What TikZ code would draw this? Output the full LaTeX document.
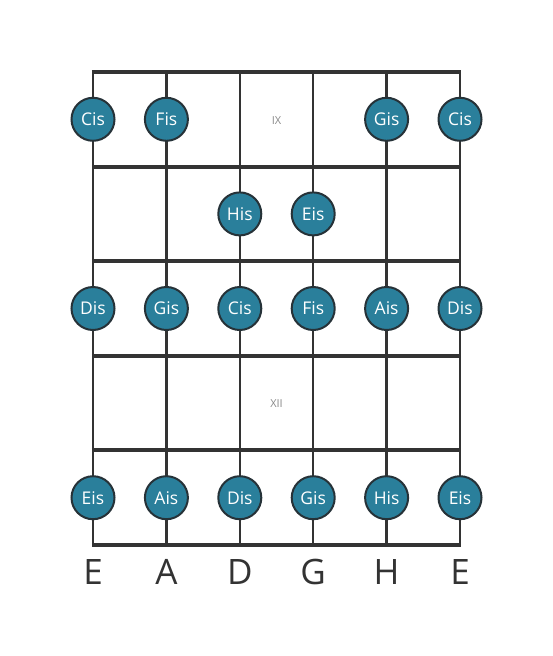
\documentclass[tikz,border=0pt]{standalone}
\usepackage{fontspec}
\setmainfont{Open Sans}
\definecolor{notefill}{HTML}{2A7F9B}
\definecolor{linecol}{HTML}{333333}
\definecolor{notedraw}{HTML}{263238}
\definecolor{fretlbl}{HTML}{8A8A8A}
\begin{document}
\begin{tikzpicture}[x=1pt,y=-1pt,
  note/.style={circle,draw=notedraw,line width=2pt,fill=notefill,minimum size=43pt,inner sep=0pt,text=white,font=\fontsize{17.5}{17.5}\selectfont},
  stringline/.style={draw=linecol,line width=2.5pt},
  fretline/.style={draw=linecol,line width=4pt},
  fretnum/.style={text=fretlbl,font=\fontsize{11}{11}\selectfont},
  tuning/.style={text=linecol,font=\fontsize{35}{35}\selectfont}]
\useasboundingbox (0,0) rectangle (553,656);
\def\sx{{93,166.4,239.8,313.2,386.6,460}}
% strings
\foreach \i in {0,...,5}{
  \pgfmathsetmacro\xx{\sx[\i]}
  \draw[stringline] (\xx,72) -- (\xx,545);
}
% frets
\foreach \y in {72,166.6,261.2,355.8,450.4,545}{
  \draw[fretline] (91.75,\y) -- (461.25,\y);
}
% fret numbers
\node[fretnum] (f9) at (276.5,120.5) {IX};
\node[fretnum] (f12) at (276.5,404) {XII};
% row 1
\node[note] (r1a) at (93,119.3) {Cis};
\node[note] (r1b) at (166.4,119.3) {Fis};
\node[note] (r1e) at (386.6,119.3) {Gis};
\node[note] (r1f) at (460,119.3) {Cis};
% row 2
\node[note] (r2c) at (239.8,213.9) {His};
\node[note] (r2d) at (313.2,213.9) {Eis};
% row 3
\node[note] (r3a) at (93,308.5) {Dis};
\node[note] (r3b) at (166.4,308.5) {Gis};
\node[note] (r3c) at (239.8,308.5) {Cis};
\node[note] (r3d) at (313.2,308.5) {Fis};
\node[note] (r3e) at (386.6,308.5) {Ais};
\node[note] (r3f) at (460,308.5) {Dis};
% row 5
\node[note] (r5a) at (93,497.7) {Eis};
\node[note] (r5b) at (166.4,497.7) {Ais};
\node[note] (r5c) at (239.8,497.7) {Dis};
\node[note] (r5d) at (313.2,497.7) {Gis};
\node[note] (r5e) at (386.6,497.7) {His};
\node[note] (r5f) at (460,497.7) {Eis};
% tuning
\node[tuning] (tE) at (93,572) {E};
\node[tuning] (tA) at (166.4,572) {A};
\node[tuning] (tD) at (239.8,572) {D};
\node[tuning] (tG) at (313.2,572) {G};
\node[tuning] (tH) at (386.6,572) {H};
\node[tuning] (tE2) at (460,572) {E};
\end{tikzpicture}
\end{document}
